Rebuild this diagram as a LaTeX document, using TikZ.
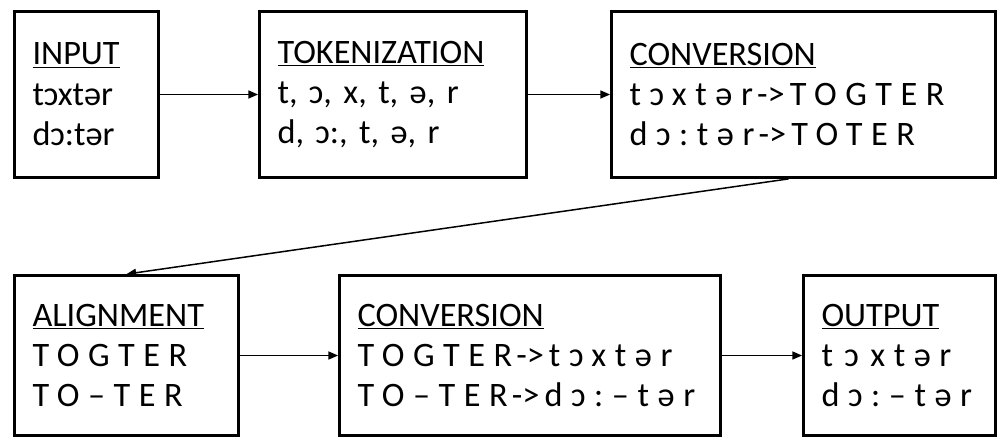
\documentclass[tikz,border=0pt]{standalone}
\usepackage{fontspec}
\setmainfont{Carlito}
\newfontfamily\spaced[LetterSpace=25]{Carlito}
\newcommand\maps{\hspace{0.12em}{\normalfont->}\hspace{0.15em}}
\usetikzlibrary{arrows.meta}
\begin{document}
\begin{tikzpicture}[x=0.02cm, y=-0.02cm,
	stage/.style={draw, line width=1.6pt, align=left, inner xsep=0.36cm, inner ysep=0pt,
		text width=#1, font=\fontsize{19.5pt}{23pt}\selectfont},
	flow/.style={-{Triangle[length=5.5pt,width=4.5pt]}, line width=0.85pt}]
  \useasboundingbox (0,0) rectangle (999,440);

\node[stage=2.16cm, minimum height=3.32cm] (input) at (86.5,94.5)
  {\underline{INPUT}\\tɔxtər\\dɔ:tər};
\node[stage=4.62cm, minimum height=3.32cm] (token) at (393,94.5)
  {\underline{TOKENIZATION}\\t, ɔ, x, t, ə, r\\d, ɔ:, t, ə, r};
\node[stage=6.96cm, minimum height=3.32cm] (conv1) at (803.5,94.5)
  {\underline{CONVERSION}\\{\spaced tɔxtər\maps TOGTER}\\{\spaced dɔ:tər\maps TOTER}};

\node[stage=3.76cm, minimum height=3.2cm] (align) at (126.5,355.5)
  {\underline{ALIGNMENT}\\{\spaced TOGTER}\\{\spaced TO–TER}};
\node[stage=6.90cm, minimum height=3.2cm] (conv2) at (530,355.5)
  {\underline{CONVERSION}\\{\spaced TOGTER\maps tɔxtər}\\{\spaced TO–TER\maps dɔ:–tər}};
\node[stage=3.12cm, minimum height=3.2cm] (output) at (899.5,355.5)
  {\underline{OUTPUT}\\{\spaced t ɔ xtər}\\{\spaced dɔ:–tər}};

\draw[flow] (input) -- (token);
\draw[flow] (token) -- (conv1);
\draw[flow] ([xshift=-0.3cm]conv1.south) -- (align.north);
\draw[flow] (align) -- (conv2);
\draw[flow] (conv2) -- (output);
\end{tikzpicture}
\end{document}
